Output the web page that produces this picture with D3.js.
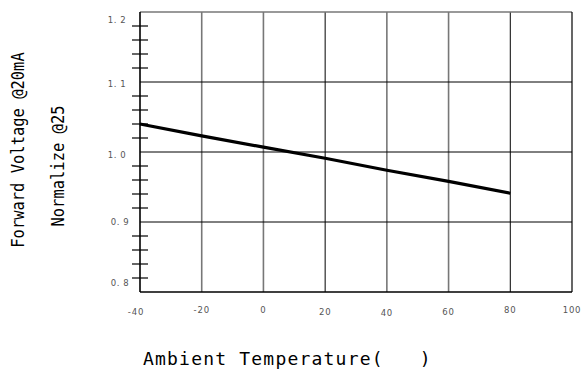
<!DOCTYPE html>
<html>
<head>
<meta charset="utf-8">
<script src="https://cdn.jsdelivr.net/npm/d3@7"></script>
<style>
  body { margin: 0; background: #fff; }
  svg text { font-family: "DejaVu Sans Mono", monospace; }
  svg text.tick { font-family: "DejaVu Sans", sans-serif; }
</style>
</head>
<body>
<div id="canvas"></div>
<script>
// data
const temps = [-40, -20, 0, 20, 40, 60, 80];
const vf = [1.040, 1.023, 1.007, 0.991, 0.974, 0.958, 0.941];
const xTicks = [-40, -20, 0, 20, 40, 60, 80, 100];
const yTicks = [0.8, 0.9, 1.0, 1.1, 1.2];
const yLabels = ["0. 8", "0. 9", "1. 0", "1. 1", "1. 2"];
const greyGrid = [-20, 0, 40, 60];

const width = 584, height = 369;
const margin = { top: 12, left: 140, bottom: 77, right: 12 };
const iwidth = width - margin.left - margin.right;
const iheight = height - margin.top - margin.bottom;

const svg = d3.select("#canvas").append("svg")
  .attr("width", width)
  .attr("height", height);

const x = d3.scaleLinear().domain([-40, 100]).range([0, iwidth]);
const y = d3.scaleLinear().domain([0.8, 1.2]).range([iheight, 0]);

let g = svg.append("g").attr("transform", `translate(${margin.left},${margin.top})`);

// vertical grid
g.selectAll(".vgrid").data(xTicks.slice(1, -1)).enter().append("line")
  .attr("x1", d => x(d)).attr("x2", d => x(d))
  .attr("y1", 0).attr("y2", iheight)
  .attr("stroke", d => greyGrid.includes(d) ? "#777" : "#000")
  .attr("stroke-width", d => greyGrid.includes(d) ? 1.6 : 1);

// horizontal grid
g.selectAll(".hgrid").data(yTicks.slice(1, -1)).enter().append("line")
  .attr("x1", 0).attr("x2", iwidth)
  .attr("y1", d => y(d)).attr("y2", d => y(d))
  .attr("stroke", "#000").attr("stroke-width", 1);

// frame
g.append("line").attr("x1", 0).attr("x2", iwidth).attr("y1", 0).attr("y2", 0)
  .attr("stroke", "#777").attr("stroke-width", 1.5);
g.append("line").attr("x1", iwidth).attr("x2", iwidth).attr("y1", 0).attr("y2", iheight)
  .attr("stroke", "#000").attr("stroke-width", 1.2);
g.append("line").attr("x1", 0).attr("x2", iwidth).attr("y1", iheight).attr("y2", iheight)
  .attr("stroke", "#000").attr("stroke-width", 1.5);

// minor ticks on the left axis
const minor = d3.range(0.82, 1.19, 0.02).filter(v => Math.abs(Math.round(v * 10) / 10 - v) > 0.005);
g.selectAll(".minor").data(minor).enter().append("line")
  .attr("x1", -8).attr("x2", 8)
  .attr("y1", d => y(d)).attr("y2", d => y(d))
  .attr("stroke", "#000").attr("stroke-width", 1.2);

g.append("line").attr("x1", 0).attr("x2", 0).attr("y1", 0).attr("y2", iheight)
  .attr("stroke", "#000").attr("stroke-width", 1.6);

// y tick labels
const yShift = [-9, 0, 3, 2, 8];
g.selectAll(".ylab").data(yTicks).enter().append("text")
  .attr("class", "tick")
  .attr("x", (d, i) => i < 2 ? -20 : -23)
  .attr("y", (d, i) => y(d) + yShift[i])
  .attr("dy", "0.35em")
  .attr("text-anchor", "middle")
  .attr("font-size", 8.5)
  .attr("letter-spacing", 0.6)
  .attr("fill", "#555")
  .text((d, i) => yLabels[i]);

// x tick labels
const xShift = [2, 0, 0, 2, 3, 2, 0, 0];
g.selectAll(".xlab").data(xTicks).enter().append("text")
  .attr("class", "tick")
  .attr("x", (d, i) => x(d) + (i === 0 ? -4 : 0))
  .attr("y", (d, i) => iheight + 18 + xShift[i])
  .attr("dy", "0.35em")
  .attr("text-anchor", "middle")
  .attr("font-size", 8.5)
  .attr("letter-spacing", 0.8)
  .attr("fill", "#555")
  .text(d => d);

// the curve
const line = d3.line().x((d, i) => x(temps[i])).y(d => y(d));
g.append("path").datum(vf)
  .attr("d", line)
  .attr("fill", "none")
  .attr("stroke", "#000")
  .attr("stroke-width", 3.2);

// titles (condensed along the text direction)
svg.append("text")
  .attr("transform", "translate(18,150) rotate(-90) scale(0.86,1)")
  .attr("dy", "0.35em")
  .attr("text-anchor", "middle")
  .attr("font-size", 18)
  .text("Forward Voltage @20mA");

svg.append("text")
  .attr("transform", "translate(58,166) rotate(-90) scale(0.86,1)")
  .attr("dy", "0.35em")
  .attr("text-anchor", "middle")
  .attr("font-size", 18)
  .text("Normalize @25");

svg.append("text")
  .attr("x", 143)
  .attr("y", 359)
  .attr("dy", "0.35em")
  .attr("font-size", 18)
  .attr("letter-spacing", 1.2)
  .style("white-space", "pre")
  .text("Ambient Temperature(   )");
</script>
</body>
</html>
